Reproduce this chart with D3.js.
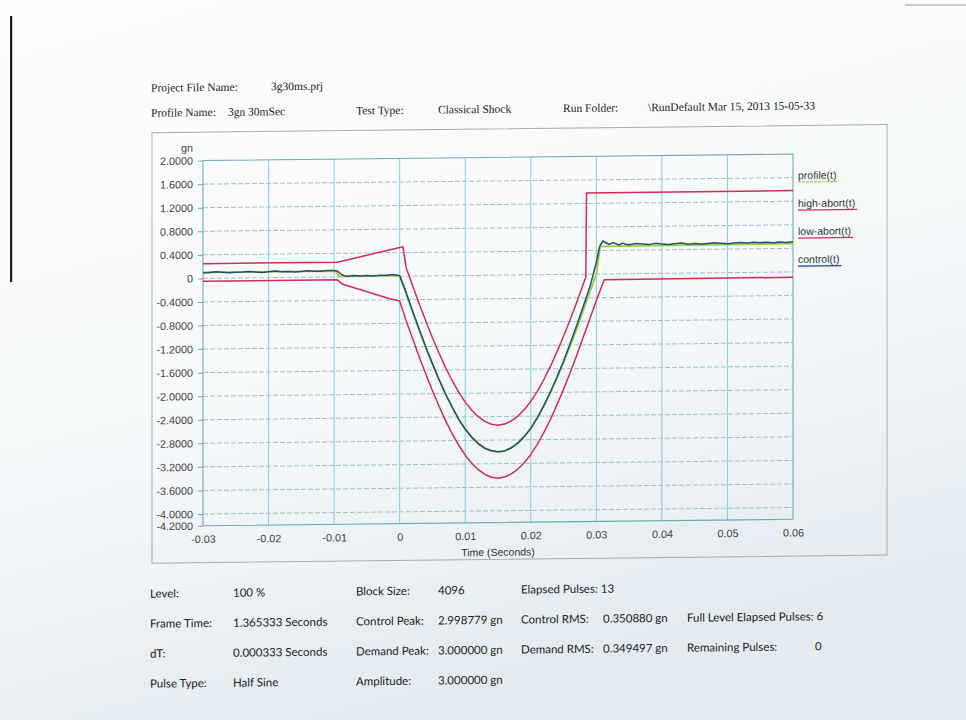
<!DOCTYPE html>
<html>
<head>
<meta charset="utf-8">
<script src="https://cdn.jsdelivr.net/npm/d3@7/dist/d3.min.js"></script>
<style>
  html, body { margin: 0; padding: 0; background: #ffffff; }
  svg { display: block; }
</style>
</head>
<body>
<svg id="chart" width="966" height="720"></svg>
<script>
// ---- Axis ticks ----
const xTicks = [-0.03, -0.02, -0.01, 0, 0.01, 0.02, 0.03, 0.04, 0.05, 0.06];
const xTickLabels = ["-0.03", "-0.02", "-0.01", "0", "0.01", "0.02", "0.03", "0.04", "0.05", "0.06"];
const yTicks = [2.0, 1.6, 1.2, 0.8, 0.4, 0, -0.4, -0.8, -1.2, -1.6, -2.0, -2.4, -2.8, -3.2, -3.6, -4.0, -4.2];
const yTickLabels = ["2.0000", "1.6000", "1.2000", "0.8000", "0.4000", "0", "-0.4000", "-0.8000", "-1.2000",
  "-1.6000", "-2.0000", "-2.4000", "-2.8000", "-3.2000", "-3.6000", "-4.0000", "-4.2000"];

// ---- Series (time in seconds, acceleration in gn) ----
const profileTime = [-0.03, -0.0098, -0.0092, 0.0,
  0.001, 0.002, 0.003, 0.004, 0.005, 0.006, 0.007, 0.008, 0.009, 0.010,
  0.011, 0.012, 0.013, 0.014, 0.015, 0.016, 0.017, 0.018, 0.019, 0.020,
  0.021, 0.022, 0.023, 0.024, 0.025, 0.026, 0.027, 0.028, 0.029, 0.030,
  0.0306, 0.06];
const profileGn = [0.10, 0.10, 0.01, 0.01,
  -0.31, -0.62, -0.93, -1.22, -1.50, -1.76, -2.01, -2.23, -2.43, -2.60,
  -2.74, -2.85, -2.93, -2.98, -3.00, -2.98, -2.93, -2.85, -2.74, -2.60,
  -2.43, -2.23, -2.01, -1.76, -1.50, -1.22, -0.93, -0.62, -0.31, 0.0,
  0.47, 0.48];

const highAbortTime = [-0.03, -0.0095, 0.0005, 0.001, 0.002, 0.003, 0.004, 0.005, 0.006, 0.007,
  0.008, 0.009, 0.010, 0.011, 0.012, 0.013, 0.014, 0.015, 0.016, 0.017, 0.018, 0.019,
  0.020, 0.021, 0.022, 0.023, 0.024, 0.025, 0.026, 0.027, 0.028, 0.0284, 0.0285, 0.06];
const highAbortGn = [0.25, 0.25, 0.50, 0.14, -0.17, -0.48, -0.77, -1.05, -1.31, -1.56,
  -1.78, -1.98, -2.15, -2.29, -2.40, -2.48, -2.53, -2.55, -2.53, -2.48, -2.40, -2.29,
  -2.15, -1.98, -1.78, -1.56, -1.31, -1.05, -0.77, -0.48, -0.17, -0.05, 1.38, 1.38];

const lowAbortTime = [-0.03, -0.0095, -0.0088, -0.0015, 0.0, 0.001, 0.002, 0.003, 0.004, 0.005,
  0.006, 0.007, 0.008, 0.009, 0.010, 0.011, 0.012, 0.013, 0.014, 0.015, 0.016, 0.017,
  0.018, 0.019, 0.020, 0.021, 0.022, 0.023, 0.024, 0.025, 0.026, 0.027, 0.028, 0.029,
  0.030, 0.0312, 0.06];
const lowAbortGn = [-0.05, -0.05, -0.12, -0.38, -0.42, -0.76, -1.07, -1.38, -1.67, -1.95,
  -2.21, -2.46, -2.68, -2.88, -3.05, -3.19, -3.30, -3.38, -3.43, -3.45, -3.43, -3.38,
  -3.30, -3.19, -3.05, -2.88, -2.68, -2.46, -2.21, -1.95, -1.67, -1.38, -1.07, -0.76,
  -0.45, -0.10, -0.09];

const controlTime = [-0.030, -0.029, -0.028, -0.027, -0.026, -0.025, -0.024, -0.023, -0.022, -0.021,
  -0.020, -0.019, -0.018, -0.017, -0.016, -0.015, -0.014, -0.013, -0.012, -0.011, -0.010,
  -0.0095, -0.009, -0.0085, -0.008, -0.007, -0.006, -0.005, -0.004, -0.003, -0.002, -0.001, -0.0005, 0.0,
  0.001, 0.002, 0.003, 0.004, 0.005, 0.006, 0.007, 0.008, 0.009, 0.010,
  0.011, 0.012, 0.013, 0.014, 0.015, 0.016, 0.017, 0.018, 0.019, 0.020,
  0.021, 0.022, 0.023, 0.024, 0.025, 0.026, 0.027, 0.028, 0.029, 0.0295, 0.030,
  0.0305, 0.031, 0.0315, 0.032, 0.0325, 0.033, 0.0335, 0.034, 0.0345, 0.035, 0.036,
  0.037, 0.038, 0.039, 0.040, 0.041, 0.042, 0.043, 0.044, 0.045, 0.046, 0.047, 0.048,
  0.049, 0.050, 0.051, 0.052, 0.053, 0.054, 0.055, 0.056, 0.057, 0.058, 0.059, 0.060];
const controlGn = [0.09, 0.10, 0.11, 0.10, 0.09, 0.10, 0.10, 0.11, 0.10, 0.09,
  0.10, 0.11, 0.10, 0.10, 0.09, 0.10, 0.11, 0.10, 0.10, 0.11, 0.11,
  0.10, 0.05, 0.02, 0.01, 0.02, 0.01, 0.02, 0.01, 0.02, 0.02, 0.03, 0.02, 0.01,
  -0.28, -0.60, -0.91, -1.21, -1.49, -1.76, -2.01, -2.23, -2.44, -2.61,
  -2.75, -2.86, -2.94, -2.98, -3.00, -2.99, -2.94, -2.86, -2.75, -2.61,
  -2.43, -2.22, -1.99, -1.74, -1.47, -1.18, -0.87, -0.55, -0.22, -0.02, 0.20,
  0.47, 0.56, 0.53, 0.50, 0.53, 0.51, 0.49, 0.52, 0.50, 0.49, 0.51,
  0.50, 0.49, 0.51, 0.50, 0.49, 0.50, 0.51, 0.49, 0.50, 0.49, 0.50, 0.51,
  0.50, 0.49, 0.50, 0.51, 0.50, 0.51, 0.50, 0.51, 0.50, 0.51, 0.50, 0.51];

const legendNames = ["profile(t)", "high-abort(t)", "low-abort(t)", "control(t)"];
const legendColors = ["#9ccc3c", "#d42a58", "#d42a58", "#23408e"];

// ---- Report text ----
const headerRow1 = [["Project File Name:", 151], ["3g30ms.prj", 271]];
const headerRow2 = [["Profile Name:", 151], ["3gn 30mSec", 228], ["Test Type:", 356],
  ["Classical Shock", 438], ["Run Folder:", 563], ["\\RunDefault Mar 15, 2013 15-05-33", 648]];
const statsRows = [
  [["Level:", 150], ["100 %", 233], ["Block Size:", 356], ["4096", 438], ["Elapsed Pulses: 13", 521]],
  [["Frame Time:", 150], ["1.365333 Seconds", 233], ["Control Peak:", 356], ["2.998779 gn", 438],
   ["Control RMS:", 521], ["0.350880 gn", 603], ["Full Level Elapsed Pulses: 6", 687]],
  [["dT:", 150], ["0.000333 Seconds", 233], ["Demand Peak:", 356], ["3.000000 gn", 438],
   ["Demand RMS:", 521], ["0.349497 gn", 603], ["Remaining Pulses:", 687], ["0", 815]],
  [["Pulse Type:", 150], ["Half Sine", 233], ["Amplitude:", 356], ["3.000000 gn", 438]]
];

// ---- Layout ----
const plot = { left: 203, right: 793, top: 157.5, bottom: 522.7 };
const svg = d3.select("#chart");

const defs = svg.append("defs");
const bg = defs.append("linearGradient").attr("id", "paper")
  .attr("x1", "0").attr("y1", "0").attr("x2", "0.35").attr("y2", "1");
bg.append("stop").attr("offset", "0").attr("stop-color", "#fdfdfd");
bg.append("stop").attr("offset", "0.55").attr("stop-color", "#f6f9fa");
bg.append("stop").attr("offset", "1").attr("stop-color", "#e3ebf1");
defs.append("clipPath").attr("id", "plotClip").append("rect")
  .attr("x", plot.left).attr("y", plot.top)
  .attr("width", plot.right - plot.left).attr("height", plot.bottom - plot.top);

svg.append("rect").attr("width", 966).attr("height", 720).attr("fill", "url(#paper)");
// page edge marks
svg.append("rect").attr("x", 10).attr("y", 16).attr("width", 2.2).attr("height", 266).attr("fill", "#1b1b1b");
svg.append("line").attr("x1", 905).attr("x2", 966).attr("y1", 5).attr("y2", 5)
  .attr("stroke", "#9a9a9a").attr("stroke-width", 1);

// the sheet sits slightly askew
const page = svg.append("g").attr("transform", "translate(0,5.31) skewY(-0.63)");

// header
const serif = "'Liberation Serif', 'Times New Roman', serif";
headerRow1.forEach(([t, x]) => page.append("text").attr("x", x).attr("y", 88)
  .attr("font-family", serif).attr("font-size", 11.5).attr("fill", "#1c1c1c").text(t));
headerRow2.forEach(([t, x]) => page.append("text").attr("x", x).attr("y", 113)
  .attr("font-family", serif).attr("font-size", 11.5).attr("fill", "#1c1c1c").text(t));

// chart frame
page.append("rect").attr("x", 152).attr("y", 129).attr("width", 735).attr("height", 430.5)
  .attr("fill", "none").attr("stroke", "#a9adb0").attr("stroke-width", 1);

const x = d3.scaleLinear().domain([-0.03, 0.06]).range([plot.left, plot.right]);
const y = d3.scaleLinear().domain([-4.2, 2.0]).range([plot.bottom, plot.top]);

// grid
page.append("g").selectAll("line").data(yTicks.filter(v => v < 2.0 && v > -4.2)).join("line")
  .attr("x1", plot.left).attr("x2", plot.right)
  .attr("y1", d => y(d)).attr("y2", d => y(d))
  .attr("stroke", "#9fc3d1").attr("stroke-width", 1).attr("stroke-dasharray", "5,2");
page.append("g").selectAll("line").data(xTicks.filter(v => v > -0.03 && v < 0.06)).join("line")
  .attr("x1", d => x(d)).attr("x2", d => x(d))
  .attr("y1", plot.top).attr("y2", plot.bottom)
  .attr("stroke", "#8ccbe0").attr("stroke-width", 1);

// axes
const sans = "'Liberation Sans', Arial, sans-serif";
const yAxis = page.append("g").attr("transform", `translate(${plot.left},0)`)
  .call(d3.axisLeft(y).tickValues(yTicks).tickFormat((d, i) => yTickLabels[i]).tickSize(5).tickPadding(5));
yAxis.select(".domain").remove();
yAxis.selectAll(".tick line").attr("stroke", "#8a9aa2");
yAxis.selectAll("text").attr("font-family", sans).attr("font-size", 10.8).attr("fill", "#444");

const xAxis = page.append("g").attr("transform", `translate(0,${plot.bottom})`)
  .call(d3.axisBottom(x).tickValues(xTicks).tickFormat((d, i) => xTickLabels[i]).tickSize(0).tickPadding(9.5));
xAxis.select(".domain").remove();
xAxis.selectAll("text").attr("font-family", sans).attr("font-size", 10.8).attr("fill", "#444");

page.append("text").attr("x", 193).attr("y", 148.5).attr("text-anchor", "end")
  .attr("font-family", sans).attr("font-size", 10.8).attr("fill", "#444").text("gn");
page.append("text").attr("x", (plot.left + plot.right) / 2).attr("y", 556)
  .attr("text-anchor", "middle").attr("font-family", sans).attr("font-size", 10.5)
  .attr("fill", "#333").text("Time (Seconds)");

// plot border
page.append("rect").attr("x", plot.left).attr("y", plot.top)
  .attr("width", plot.right - plot.left).attr("height", plot.bottom - plot.top)
  .attr("fill", "none").attr("stroke", "#6eaabb").attr("stroke-width", 1.1);

// series
const lines = page.append("g").attr("clip-path", "url(#plotClip)");
function drawSeries(times, values, color, width) {
  const gen = d3.line().x((d, i) => x(times[i])).y(d => y(d));
  lines.append("path").datum(values).attr("d", gen)
    .attr("fill", "none").attr("stroke", color).attr("stroke-width", width)
    .attr("stroke-linejoin", "round");
}
drawSeries(highAbortTime, highAbortGn, "#d42a58", 1.5);
drawSeries(lowAbortTime, lowAbortGn, "#d42a58", 1.5);
drawSeries(profileTime, profileGn, "#9ccc3c", 1.8);
drawSeries(controlTime, controlGn, "#22506c", 1.5);

// legend
legendNames.forEach((name, i) => {
  const ly = 182.5 + i * 28;
  const t = page.append("text").attr("x", 798).attr("y", ly)
    .attr("font-family", sans).attr("font-size", 10.5).attr("fill", "#333").text(name);
  const w = t.node().getComputedTextLength();
  page.append("line").attr("x1", 798).attr("x2", 798 + w + 2)
    .attr("y1", ly + 3).attr("y2", ly + 3)
    .attr("stroke", legendColors[i]).attr("stroke-width", 1.2)
    .attr("stroke-dasharray", i === 0 ? "3,1" : null);
});

// run statistics
const body = "Lato, 'Open Sans', sans-serif";
statsRows.forEach((row, r) => {
  row.forEach(([t, xPos]) => page.append("text").attr("x", xPos).attr("y", 594 + r * 30)
    .attr("font-family", body).attr("font-size", 11.5).attr("fill", "#222").text(t));
});
</script>
</body>
</html>
